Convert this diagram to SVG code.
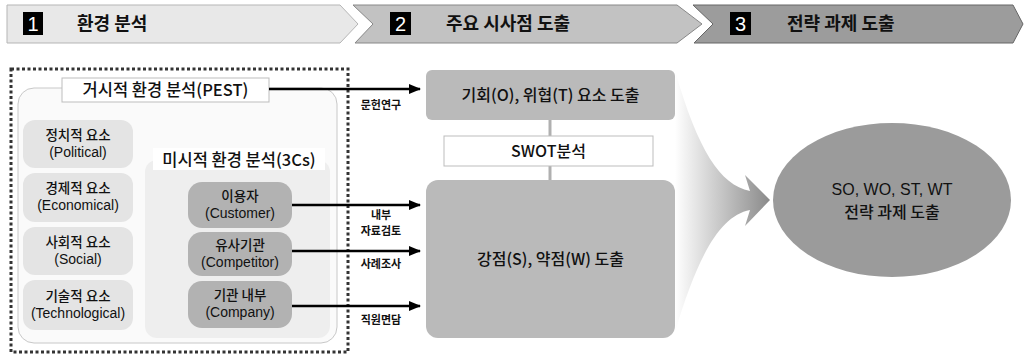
<svg xmlns="http://www.w3.org/2000/svg" width="1024" height="356" viewBox="0 0 1024 356">
<defs>
<style>
text{font-family:"Noto Sans CJK KR","Liberation Sans",sans-serif;fill:#111;text-anchor:middle;font-weight:500}
.lat{font-family:"Liberation Sans","Noto Sans CJK KR",sans-serif;font-size:14px}
.hd{font-size:18px;font-weight:bold;text-anchor:start}
.num{font-family:"Liberation Sans",sans-serif;font-size:20px;fill:#fff;font-weight:normal}
.t17{font-size:16.5px}
.t16{font-size:16px}
.sm{font-size:13.5px}
.lb{font-size:11px;font-weight:bold}
.pest{fill:#e4e4e4}
.cs{fill:#b2b2b2}
.big{fill:#bababa}
.conn{stroke:#000;stroke-width:2.5;fill:none}
</style>
<marker id="ah" markerUnits="userSpaceOnUse" markerWidth="12" markerHeight="10" refX="11" refY="5" orient="auto">
<path d="M0,0 L12,5 L0,10 Z" fill="#000"/>
</marker>
<linearGradient id="fan" x1="675" y1="0" x2="770" y2="0" gradientUnits="userSpaceOnUse">
<stop offset="0" stop-color="#ffffff"/>
<stop offset="1" stop-color="#8a8a8a"/>
</linearGradient>
</defs>
<rect width="1024" height="356" fill="#fff"/>

<g id="step1">
<path d="M7,5 L340,5 L358,24 L340,43 L7,43 Z" fill="#e8e8e8" stroke="#b5b5b5" stroke-width="1"/>
<rect x="23" y="12" width="20" height="23" fill="#000"/>
<text class="num" x="33" y="31">1</text>
<text class="hd" x="77" y="30">환경 분석</text>
</g>
<g id="step2">
<path d="M353,5 L677,5 L702,24 L677,43 L355,43 L373,24 Z" fill="#c2c2c2" stroke="#888" stroke-width="1"/>
<rect x="390" y="12" width="21" height="23" fill="#000"/>
<text class="num" x="400.5" y="31">2</text>
<text class="hd" x="446" y="30">주요 시사점 도출</text>
</g>
<g id="step3">
<path d="M693,5 L1013,5 L1023,24 L1013,43 L694,43 L713,24 Z" fill="#9c9c9c" stroke="#666" stroke-width="1"/>
<rect x="730" y="12" width="21" height="23" fill="#000"/>
<text class="num" x="740.5" y="31">3</text>
<text class="hd" x="787" y="30">전략 과제 도출</text>
</g>

<g id="fan-arrow">
<path d="M675,71 C698,150 720,185 750,191 L745,175 L770,200 L745,226 L750,210 C720,216 698,255 675,332 Z" fill="url(#fan)"/>
</g>

<g id="env-frame">
<rect x="11" y="69" width="337" height="283" fill="none" stroke="#333" stroke-width="3" stroke-dasharray="3 2.5"/>
</g>

<g id="pest">
<rect x="18" y="88" width="319" height="255" rx="16" fill="#fafafa" stroke="#c8c8c8" stroke-width="1"/>
<rect x="62" y="78" width="207" height="24" fill="#fff" stroke="#bdbdbd" stroke-width="1"/>
<text class="t17" x="165.5" y="96">거시적 환경 분석(PEST)</text>
</g>

<g id="political">
<rect class="pest" x="23" y="120" width="110" height="48" rx="12"/>
<text class="sm" x="78" y="140">정치적 요소</text>
<text class="lat" x="78" y="157">(Political)</text>
</g>
<g id="economical">
<rect class="pest" x="23" y="173" width="110" height="49" rx="12"/>
<text class="sm" x="78" y="193">경제적 요소</text>
<text class="lat" x="78" y="210">(Economical)</text>
</g>
<g id="social">
<rect class="pest" x="23" y="227" width="110" height="48" rx="12"/>
<text class="sm" x="78" y="247">사회적 요소</text>
<text class="lat" x="78" y="264">(Social)</text>
</g>
<g id="technological">
<rect class="pest" x="23" y="280" width="110" height="50" rx="12"/>
<text class="sm" x="78" y="301">기술적 요소</text>
<text class="lat" x="78" y="318">(Technological)</text>
</g>

<g id="micro">
<rect x="145" y="160" width="185" height="178" rx="12" fill="#eeeeee"/>
<rect x="153" y="148" width="172" height="22" fill="#fff"/>
<text class="t17" x="239" y="166">미시적 환경 분석(3Cs)</text>
</g>
<g id="customer">
<rect class="cs" x="188" y="182" width="104" height="46" rx="14"/>
<text class="sm" x="240" y="201">이용자</text>
<text class="lat" x="240" y="218">(Customer)</text>
</g>
<g id="competitor">
<rect class="cs" x="188" y="232" width="104" height="44" rx="14"/>
<text class="sm" x="240" y="250">유사기관</text>
<text class="lat" x="240" y="267">(Competitor)</text>
</g>
<g id="company">
<rect class="cs" x="188" y="281" width="104" height="47" rx="14"/>
<text class="sm" x="240" y="300">기관 내부</text>
<text class="lat" x="240" y="317">(Company)</text>
</g>

<g id="connectors">
<line class="conn" x1="269" y1="89" x2="420" y2="89" marker-end="url(#ah)"/>
<line class="conn" x1="292" y1="205" x2="420" y2="205" marker-end="url(#ah)"/>
<line class="conn" x1="292" y1="251" x2="420" y2="251" marker-end="url(#ah)"/>
<line class="conn" x1="292" y1="306" x2="420" y2="306" marker-end="url(#ah)"/>
<line x1="550" y1="120" x2="550" y2="136" stroke="#b0b0b0" stroke-width="3"/>
<line x1="550" y1="166" x2="550" y2="180" stroke="#b0b0b0" stroke-width="3"/>
<text class="lb" x="381" y="109">문헌연구</text>
<text class="lb" x="381" y="219">내부</text>
<text class="lb" x="381" y="235">자료검토</text>
<text class="lb" x="381" y="268">사례조사</text>
<text class="lb" x="381" y="324">직원면담</text>
</g>

<g id="opp-threat">
<rect class="big" x="426" y="70" width="249" height="50" rx="6"/>
<text class="t16" x="550.5" y="101">기회(O), 위협(T) 요소 도출</text>
</g>
<g id="swot">
<rect x="444" y="136" width="209" height="30" fill="#fff" stroke="#bdbdbd" stroke-width="1"/>
<text class="t16" x="548.5" y="157">SWOT분석</text>
</g>
<g id="str-weak">
<rect class="big" x="426" y="180" width="249" height="158" rx="12"/>
<text class="t16" x="550.5" y="265">강점(S), 약점(W) 도출</text>
</g>

<g id="strategy">
<ellipse cx="892" cy="200" rx="119" ry="77" fill="#9b9b9b"/>
<text class="t16 lat" x="892" y="195" style="font-size:16px">SO, WO, ST, WT</text>
<text class="t16" x="892" y="218">전략 과제 도출</text>
</g>
</svg>
